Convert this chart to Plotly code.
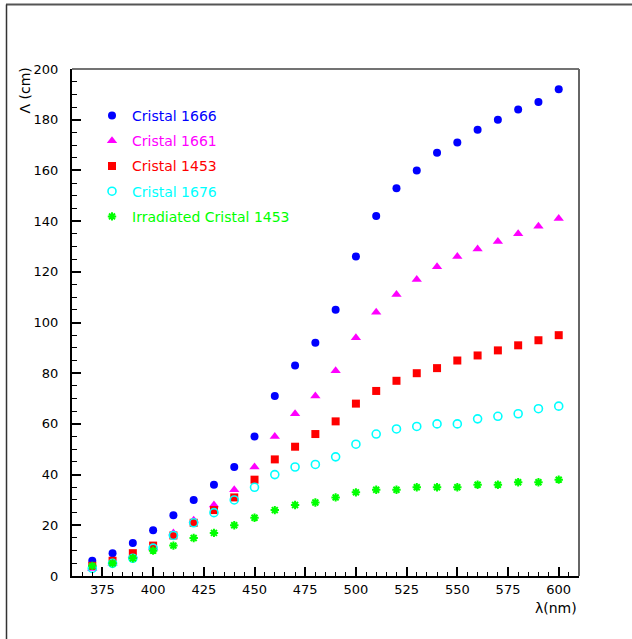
import plotly.graph_objects as go

wavelength = [370, 380, 390, 400, 410, 420, 430, 440, 450, 460, 470, 480,
              490, 500, 510, 520, 530, 540, 550, 560, 570, 580, 590, 600]

cristal_1666 = [6, 9, 13, 18, 24, 30, 36, 43, 55, 71, 83, 92,
                105, 126, 142, 153, 160, 167, 171, 176, 180, 184, 187, 192]
cristal_1661 = [3, 5, 8, 11, 17, 22, 28, 34, 43, 55, 64, 71,
                81, 94, 104, 111, 117, 122, 126, 129, 132, 135, 138, 141]
cristal_1453 = [4, 6, 9, 12, 16, 21, 26, 31, 38, 46, 51, 56,
                61, 68, 73, 77, 80, 82, 85, 87, 89, 91, 93, 95]
cristal_1676 = [3, 5, 7, 11, 16, 21, 25, 30, 35, 40, 43, 44,
                47, 52, 56, 58, 59, 60, 60, 62, 63, 64, 66, 67]
irradiated_1453 = [4, 5, 7, 10, 12, 15, 17, 20, 23, 26, 28, 29,
                   31, 33, 34, 34, 35, 35, 35, 36, 36, 37, 37, 38]

series = [
    ("Cristal 1666", cristal_1666, "#0000ff", "circle", 8, 0),
    ("Cristal 1661", cristal_1661, "#ff00ff", "triangle-up", 9, 0),
    ("Cristal 1453", cristal_1453, "#ff0000", "square", 8, 0),
    ("Cristal 1676", cristal_1676, "#00ffff", "circle-open", 8, 1.6),
    ("Irradiated Cristal 1453", irradiated_1453, "#00ff00", "asterisk-open", 7, 2),
]

FONT = "DejaVu Sans"

fig = go.Figure()
for i, (name, vals, color, sym, size, lw) in enumerate(series):
    fig.add_trace(go.Scatter(
        x=wavelength, y=vals, mode="markers",
        name=f'<span style="color:{color}">{name}</span>',
        legendgroup=f"g{i}",
        marker=dict(symbol=sym, size=size, color=color,
                    line=dict(width=lw, color=color)),
    ))

L, R, T, B = 72, 53, 69, 63
W, H = 632, 639
pw, ph = W - L - R, H - T - B

def px(xp):
    return (xp - L) / pw

def py(yp):
    return (H - B - yp) / ph

axis_common = dict(
    showgrid=False, zeroline=False, showline=True, linecolor="black",
    linewidth=2, ticks="inside", ticklen=9, tickwidth=1.5, tickcolor="black",
    tickfont=dict(family=FONT, size=13, color="black"),
)

fig.update_xaxes(range=[360, 610], tickmode="linear", tick0=375, dtick=25,
                 minor=dict(ticks="inside", ticklen=4.5, tickwidth=1,
                            dtick=5, tick0=375, tickcolor="black"),
                 **axis_common)
fig.update_yaxes(range=[0, 200], tickmode="linear", tick0=0, dtick=20,
                 ticklabelstandoff=9,
                 minor=dict(ticks="inside", ticklen=4.5, tickwidth=1,
                            dtick=5, tick0=0, tickcolor="black"),
                 **axis_common)

shapes = [
    # plot frame top and right
    dict(type="line", xref="paper", yref="paper", x0=0, x1=1, y0=1, y1=1,
         line=dict(color="#444444", width=1.5), layer="above"),
    dict(type="line", xref="paper", yref="paper", x0=1, x1=1, y0=0, y1=1,
         line=dict(color="#666666", width=2), layer="above"),
    # outer canvas frame
    dict(type="line", xref="paper", yref="paper", x0=px(6), x1=px(640),
         y0=py(4.5), y1=py(4.5), line=dict(color="#555555", width=2)),
    dict(type="line", xref="paper", yref="paper", x0=px(6.5), x1=px(6.5),
         y0=py(4.5), y1=py(650), line=dict(color="#333333", width=1.5)),
]

annotations = [
    dict(text="Λ (cm)", xref="paper", yref="paper", x=px(24), y=py(90.5),
         xanchor="center", yanchor="middle", textangle=-90, showarrow=False,
         font=dict(family=FONT, size=14, color="black")),
    dict(text="λ(nm)", xref="paper", yref="paper", x=1, y=py(608),
         xanchor="right", yanchor="middle", showarrow=False,
         font=dict(family=FONT, size=14, color="black")),
]

fig.update_layout(
    width=W, height=H,
    margin=dict(l=L, r=R, t=T, b=B),
    paper_bgcolor="white", plot_bgcolor="white",
    shapes=shapes, annotations=annotations,
    showlegend=True,
    legend=dict(x=px(92), y=py(100), xanchor="left", yanchor="top",
                bgcolor="rgba(0,0,0,0)", borderwidth=0,
                tracegroupgap=4, itemwidth=30,
                font=dict(family=FONT, size=14)),
)

fig.write_html("out.html",
               config={"displayModeBar": False},
               post_script="document.body.style.margin='0';")
